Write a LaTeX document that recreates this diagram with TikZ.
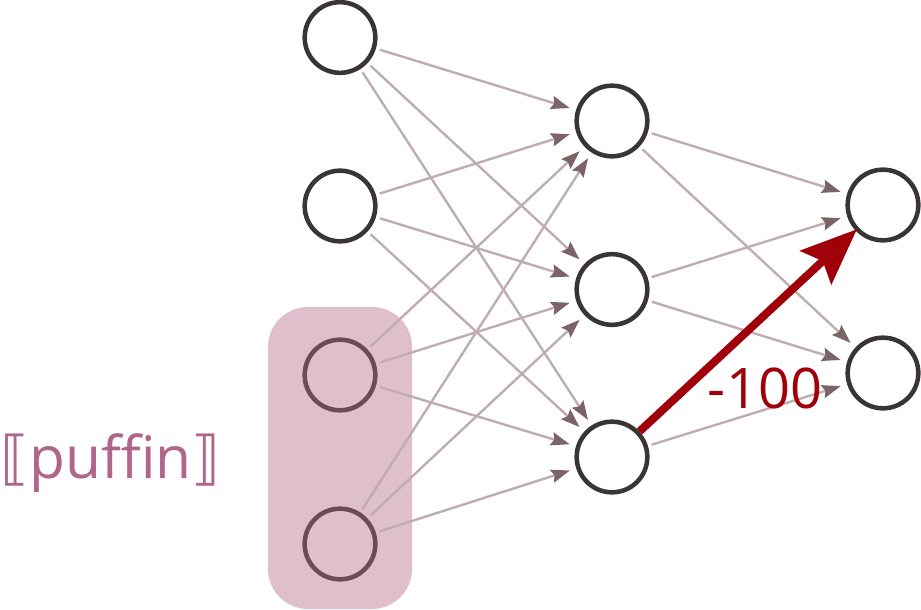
\documentclass[tikz,border=0pt]{standalone}
\usepackage{fontspec}
\setmainfont{Open Sans}
\newfontfamily\symfont{DejaVu Sans}
\usetikzlibrary{arrows.meta}
\definecolor{nodeline}{HTML}{3A3534}
\definecolor{boxfill}{HTML}{E0BFCC}
\definecolor{boxline}{HTML}{6E4A58}
\definecolor{edgegray}{HTML}{BFADB0}
\definecolor{tipgray}{HTML}{7B6367}
\definecolor{weightred}{HTML}{A0000A}
\definecolor{labelpink}{HTML}{B0668A}
\begin{document}
\begin{tikzpicture}[x=0.75pt,y=-0.75pt,
  neuron/.style={circle,draw=nodeline,line width=3.4pt,fill=white,minimum size=53pt,inner sep=0pt},
  inneuron/.style={neuron,draw=boxline,fill=none},
  conn/.style={draw=edgegray,line width=1.8pt,shorten <=3pt,shorten >=5pt,
    -{Stealth[length=14pt,width=10pt,inset=2pt,color=tipgray]}},
  strong/.style={draw=weightred,line width=6pt,shorten >=-1.5pt,
    -{Stealth[length=42pt,width=34pt,inset=7pt]}}]
\useasboundingbox (0,0) rectangle (921,610);
% highlighted input group
\fill[boxfill,rounded corners=30pt] (268,307) rectangle (412,609);
% input layer
\node[neuron]   (i1) at (340,37.5) {};
\node[neuron]   (i2) at (340,206) {};
\node[inneuron] (i3) at (340,375) {};
\node[inneuron] (i4) at (340,544) {};
% hidden layer
\node[neuron] (h1) at (612,121) {};
\node[neuron] (h2) at (612,289.5) {};
\node[neuron] (h3) at (612,457) {};
% output layer
\node[neuron] (o1) at (883,205) {};
\node[neuron] (o2) at (883,373) {};
% connections
\foreach \a in {i1,i2,i3,i4}
  \foreach \b in {h1,h2,h3}
    \draw[conn] (\a) -- (\b);
\foreach \a/\b in {h1/o1,h1/o2,h2/o1,h2/o2,h3/o2}
  \draw[conn] (\a) -- (\b);
\draw[strong] (h3) -- (o1);
\node[text=weightred,font=\fontsize{42pt}{46pt}\selectfont,inner sep=0pt] (w) at (765,388) {-100};
\node[text=labelpink,font=\fontsize{44pt}{50pt}\selectfont,inner sep=0pt,anchor=west] (lbl) at (0,463)
  {{\symfont ⟦}puffin{\symfont ⟧}};
\end{tikzpicture}
\end{document}
